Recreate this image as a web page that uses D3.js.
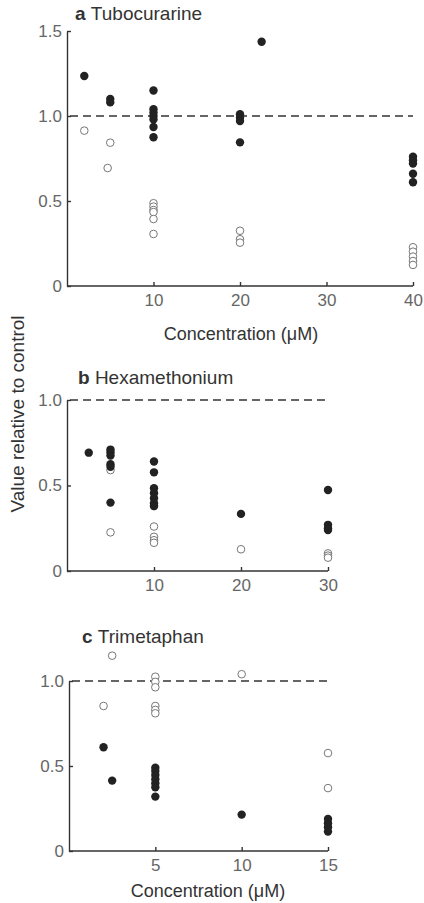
<!DOCTYPE html>
<html>
<head>
<meta charset="utf-8">
<script src="https://cdn.jsdelivr.net/npm/d3@7"></script>
<style>
  body { margin: 0; background: #fff; }
  text { font-family: "Liberation Sans", "DejaVu Sans", sans-serif; }
  .tick text { fill: #666; font-size: 17px; }
  .axis path, .axis line { stroke: #333; stroke-width: 1.4; }
</style>
</head>
<body>
<div id="chart"></div>
<script>
// data: [concentration (uM), value relative to control]
var tuboFilled = [[2,1.235],[5,1.10],[5,1.08],[10,1.15],[10,1.04],[10,1.02],[10,1.0],[10,0.98],[10,0.935],[10,0.875],
  [20,1.01],[20,0.99],[20,0.97],[20,0.845],[22.5,1.437],[40,0.76],[40,0.74],[40,0.72],[40,0.66],[40,0.61]];
var tuboOpen = [[2,0.914],[5,0.843],[4.7,0.694],[10,0.487],[10,0.467],[10,0.447],[10,0.435],[10,0.394],[10,0.306],
  [20,0.325],[20,0.275],[20,0.255],[40,0.228],[40,0.202],[40,0.173],[40,0.147],[40,0.124]];

var hexaFilled = [[2.5,0.692],[5,0.71],[5,0.695],[5,0.675],[5,0.625],[5,0.61],[5,0.40],
  [10,0.64],[10,0.577],[10,0.484],[10,0.455],[10,0.425],[10,0.396],[10,0.38],
  [20,0.334],[30,0.474],[30,0.27],[30,0.25],[30,0.24]];
var hexaOpen = [[5,0.59],[5,0.226],[10,0.38],[10,0.26],[10,0.2],[10,0.18],[10,0.165],
  [20,0.127],[30,0.103],[30,0.09],[30,0.078]];

var trimFilled = [[2,0.61],[2.5,0.414],[5,0.49],[5,0.47],[5,0.447],[5,0.422],[5,0.398],[5,0.375],[5,0.32],
  [10,0.214],[15,0.188],[15,0.163],[15,0.14],[15,0.114]];
var trimOpen = [[2.5,1.149],[2,0.853],[5,1.025],[5,0.995],[5,0.963],[5,0.853],[5,0.83],[5,0.81],
  [10,1.04],[15,0.576],[15,0.37]];

var panels = [
  {letter: "a", name: "Tubocurarine", xMax: 40, xTicks: [10,20,30,40], yMax: 1.5, yTicks: [0,0.5,1.0,1.5],
   x0: 67, x1: 413, y0: 286, y1: 31, titleY: 20, titleX: 75, filled: tuboFilled, open: tuboOpen, xlabelY: 340, xlabelX: 241},
  {letter: "b", name: "Hexamethonium", xMax: 30, xTicks: [10,20,30], yMax: 1.0, yTicks: [0,0.5,1.0],
   x0: 67, x1: 328, y0: 571, y1: 400, titleY: 384, titleX: 78, filled: hexaFilled, open: hexaOpen},
  {letter: "c", name: "Trimetaphan", xMax: 15, xTicks: [5,10,15], yMax: 1.0, yTicks: [0,0.5,1.0],
   x0: 69, x1: 328, y0: 851, y1: 681, titleY: 643, titleX: 82, filled: trimFilled, open: trimOpen, xlabelY: 897, xlabelX: 208}
];

var svg = d3.select("#chart").append("svg")
  .attr("width", 424)
  .attr("height", 903);

panels.forEach(function(p) {
  var x = d3.scaleLinear().domain([0, p.xMax]).range([p.x0, p.x1]);
  var y = d3.scaleLinear().domain([0, p.yMax]).range([p.y0, p.y1]);

  svg.append("g")
    .attr("class", "axis")
    .attr("transform", `translate(0, ${p.y0})`)
    .call(d3.axisBottom(x).tickValues(p.xTicks).tickSizeInner(-4).tickSizeOuter(0).tickPadding(8))
    .select(".domain").attr("d", `M${p.x0},0H${p.x1}`);

  svg.append("g")
    .attr("class", "axis")
    .attr("transform", `translate(${p.x0}, 0)`)
    .call(d3.axisLeft(y).tickValues(p.yTicks).tickSizeInner(-4).tickSizeOuter(0).tickPadding(5)
      .tickFormat(d => d === 0 ? "0" : d.toFixed(1)));

  // control level
  svg.append("line")
    .attr("x1", x(0) + 3).attr("x2", x(p.xMax))
    .attr("y1", y(1)).attr("y2", y(1))
    .attr("stroke", "#333")
    .attr("stroke-width", 1.4)
    .attr("stroke-dasharray", "8,5");

  svg.append("g").selectAll("circle")
    .data(p.open)
    .join("circle")
    .attr("cx", d => x(d[0]))
    .attr("cy", d => y(d[1]))
    .attr("r", 3.8)
    .attr("fill", "#fff")
    .attr("stroke", "#777")
    .attr("stroke-width", 1);

  svg.append("g").selectAll("circle")
    .data(p.filled)
    .join("circle")
    .attr("cx", d => x(d[0]))
    .attr("cy", d => y(d[1]))
    .attr("r", 4.2)
    .attr("fill", "#222");

  var title = svg.append("text")
    .attr("x", p.titleX)
    .attr("y", p.titleY)
    .attr("fill", "#333")
    .style("font-size", "19px");
  title.append("tspan").attr("font-weight", "bold").text(p.letter + " ");
  title.append("tspan").text(p.name);

  if (p.xlabelY) {
    svg.append("text")
      .attr("x", p.xlabelX)
      .attr("y", p.xlabelY)
      .attr("text-anchor", "middle")
      .attr("fill", "#333")
      .style("font-size", "18px")
      .text("Concentration (\u03bcM)");
  }
});

svg.append("text")
  .attr("transform", "translate(24, 414) rotate(-90)")
  .attr("text-anchor", "middle")
  .attr("fill", "#333")
  .style("font-size", "19px")
  .text("Value relative to control");
</script>
</body>
</html>
